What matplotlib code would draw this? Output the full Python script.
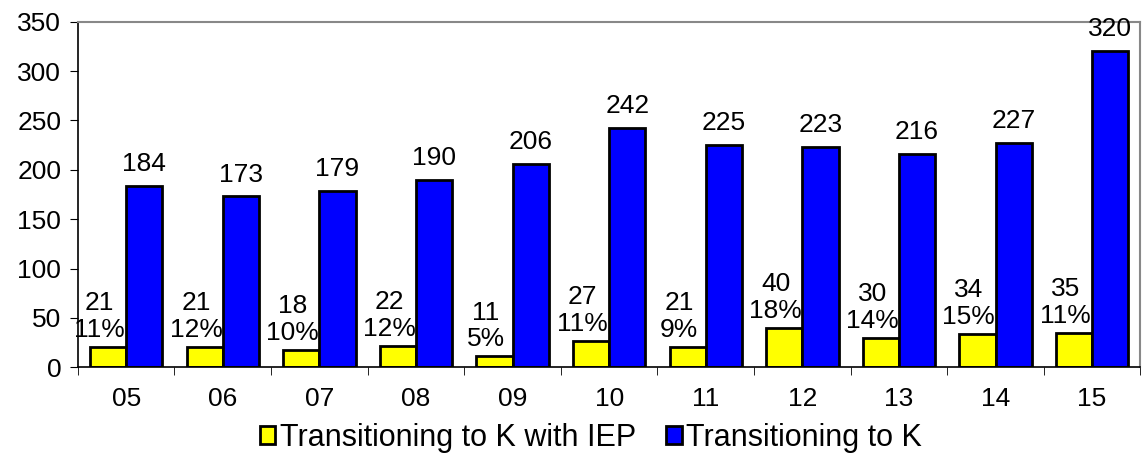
import numpy as np
import matplotlib
matplotlib.use("Agg")
import matplotlib.pyplot as plt

plt.rcParams['font.family'] = ['Liberation Sans', 'DejaVu Sans']

# chart data
years = ["05", "06", "07", "08", "09", "10", "11", "12", "13", "14", "15"]
with_iep = [21, 21, 18, 22, 11, 27, 21, 40, 30, 34, 35]
iep_pct = [11, 12, 10, 12, 5, 11, 9, 18, 14, 15, 11]
to_k = [184, 173, 179, 190, 206, 242, 225, 223, 216, 227, 320]

fig = plt.figure(figsize=(11.45, 4.62), dpi=100)
ax = fig.add_axes([0.068, 0.205, 0.928, 0.748])

x = np.arange(len(years))
w = 0.375
ax.bar(x - w / 2, with_iep, w, color="#ffff00", edgecolor="black", linewidth=2,
       label="Transitioning to K with IEP")
ax.bar(x + w / 2, to_k, w, color="#0000ff", edgecolor="black", linewidth=2,
       label="Transitioning to K")

fs = 19
# value labels
for xi, v, p in zip(x, with_iep, iep_pct):
    ax.text(xi - w / 2 - 0.09, v + 5, f"{v}\n{p}%", ha="center", va="bottom",
            fontsize=fs, linespacing=1.15)
for xi, v in zip(x, to_k):
    ax.text(xi + w / 2, v + 10, str(v), ha="center", va="bottom", fontsize=fs)

ax.set_xlim(-0.5, len(years) - 0.5)
ax.set_ylim(0, 350)
ax.set_yticks(range(0, 351, 50))
ax.set_xticks(x)
ax.set_xticklabels(years)
ax.set_xticks(np.arange(-0.5, len(years), 1), minor=True)
ax.tick_params(axis="x", which="major", length=0, pad=14, labelsize=fs)
ax.tick_params(axis="x", which="minor", length=6, direction="out")
ax.tick_params(axis="y", labelsize=fs, length=6, pad=6)

for s in ["top", "right"]:
    ax.spines[s].set_color("#888888")
    ax.spines[s].set_linewidth(1.5)
ax.spines["left"].set_linewidth(1.2)
ax.spines["bottom"].set_linewidth(1.2)

fig.legend(loc="center", bbox_to_anchor=(0.516, 0.052), ncol=2, frameon=False,
           fontsize=22, handlelength=0.5, handleheight=0.5, handletextpad=0.15,
           columnspacing=1.0, borderaxespad=0)

fig.savefig("out.png", dpi=100)
